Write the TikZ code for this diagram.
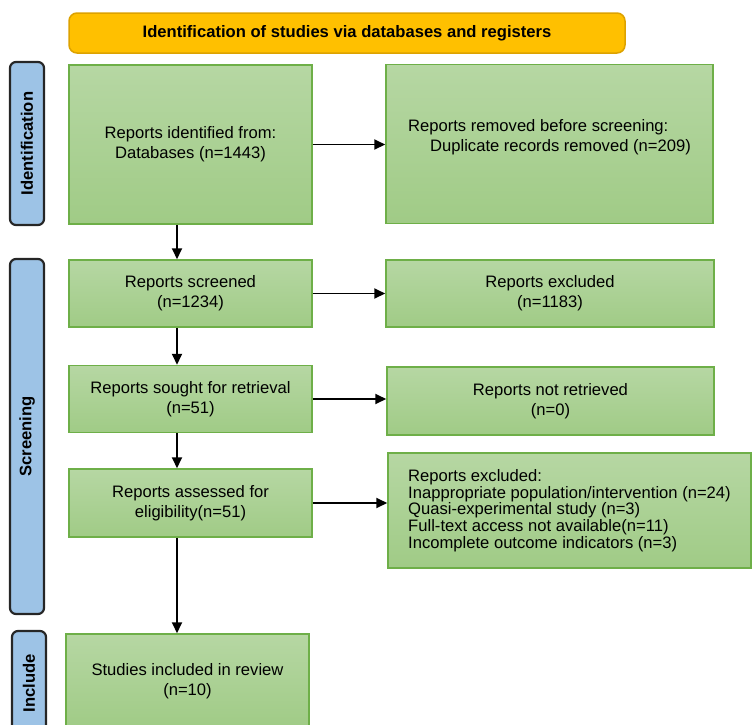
\documentclass[tikz,border=0pt]{standalone}
\usepackage{fontspec}
\setmainfont{Liberation Sans}
\usetikzlibrary{arrows.meta}

\definecolor{greentop}{HTML}{B6D7A3}
\definecolor{greenbot}{HTML}{A0CB86}
\definecolor{greenedge}{HTML}{6EAF48}
\definecolor{headyellow}{HTML}{FFC000}
\definecolor{headedge}{HTML}{DDA200}
\definecolor{sideblue}{HTML}{9DC3E6}
\newcommand{\bodysize}{\fontsize{16.6}{20}\selectfont}

\begin{document}
\begin{tikzpicture}[x=1pt,y=-1pt,
		greenbox/.style={draw=greenedge,line width=1.5pt,top color=greentop,bottom color=greenbot,
			inner sep=8pt,align=center,font=\bodysize},
		sidebar/.style={draw=black!85,line width=2.2pt,fill=sideblue,rounded corners=6pt,
			rotate=90,minimum height=34pt,font=\bfseries\bodysize},
		headbar/.style={draw=headedge,line width=1.5pt,fill=headyellow,rounded corners=8pt,
			font=\bfseries\bodysize},
		arr/.style={-{Triangle[length=11pt,width=10pt]},line width=1.9pt}]
		\useasboundingbox (0,0) rectangle (753,724);
		\clip (0,0) rectangle (753,724);

		% Title bar
		\node[headbar,minimum width=556pt,minimum height=40pt] (head) at (347,33)
			{Identification of studies via databases and registers};

		% Phase bars
		\node[sidebar,minimum width=163pt] (sideid)  at (27,143.5) {Identification};
		\node[sidebar,minimum width=355pt] (sidescr) at (27,436.5) {Screening};
		\node[sidebar,minimum width=104pt] (sideinc) at (29,683)   {Include};

		% Main column
		\node[greenbox,minimum width=243pt,minimum height=159pt] (ident) at (190.5,144.5)
			{Reports identified from:\\Databases (n=1443)};
		\node[greenbox,minimum width=243pt,minimum height=67pt] (screened) at (190.5,293.5)
			{Reports screened\\(n=1234)};
		\node[greenbox,minimum width=243pt,minimum height=67pt] (sought) at (190.5,399)
			{Reports sought for retrieval\\(n=51)};
		\node[greenbox,minimum width=243pt,minimum height=68pt] (assessed) at (190.5,503)
			{Reports assessed for\\eligibility(n=51)};
		\node[greenbox,minimum width=243pt,minimum height=94pt] (incl) at (187.5,681)
			{Studies included in review\\(n=10)};

		% Side column
		\node[greenbox,align=left,minimum width=327pt,minimum height=159pt] (removed) at (549.5,144)
			{Reports removed before screening:\\\hspace*{22pt}Duplicate records removed (n=209)\\[-2pt]};
		\node[greenbox,minimum width=328pt,minimum height=67pt] (excl1) at (550,293.5)
			{Reports excluded\\(n=1183)};
		\node[greenbox,minimum width=327pt,minimum height=68pt] (notret) at (550.5,401)
			{Reports not retrieved\\(n=0)};
		\node[greenbox,align=left,minimum width=363pt,minimum height=115pt,
			font=\fontsize{16.6}{16.7}\selectfont] (excl2) at (569.5,510.5)
			{Reports excluded:\\Inappropriate population/intervention (n=24)\\
			Quasi-experimental study (n=3)\\Full-text access not available(n=11)\\
			Incomplete outcome indicators (n=3)};

		% Downward flow
		\coordinate (spine) at (177,0);
		\draw[arr] (ident.south -| spine) -- (screened.north -| spine);
		\draw[arr] (screened.south -| spine) -- (sought.north -| spine);
		\draw[arr] (sought.south -| spine) -- (assessed.north -| spine);
		\draw[arr] (assessed.south -| spine) -- (incl.north -| spine);

		% Exclusions
		\draw[arr] (ident.east) -- (removed.west |- ident.east);
		\draw[arr] (screened.east) -- (excl1.west |- screened.east);
		\draw[arr] (sought.east) -- (notret.west |- sought.east);
		\draw[arr] (assessed.east) -- (excl2.west |- assessed.east);
	\end{tikzpicture}
\end{document}
